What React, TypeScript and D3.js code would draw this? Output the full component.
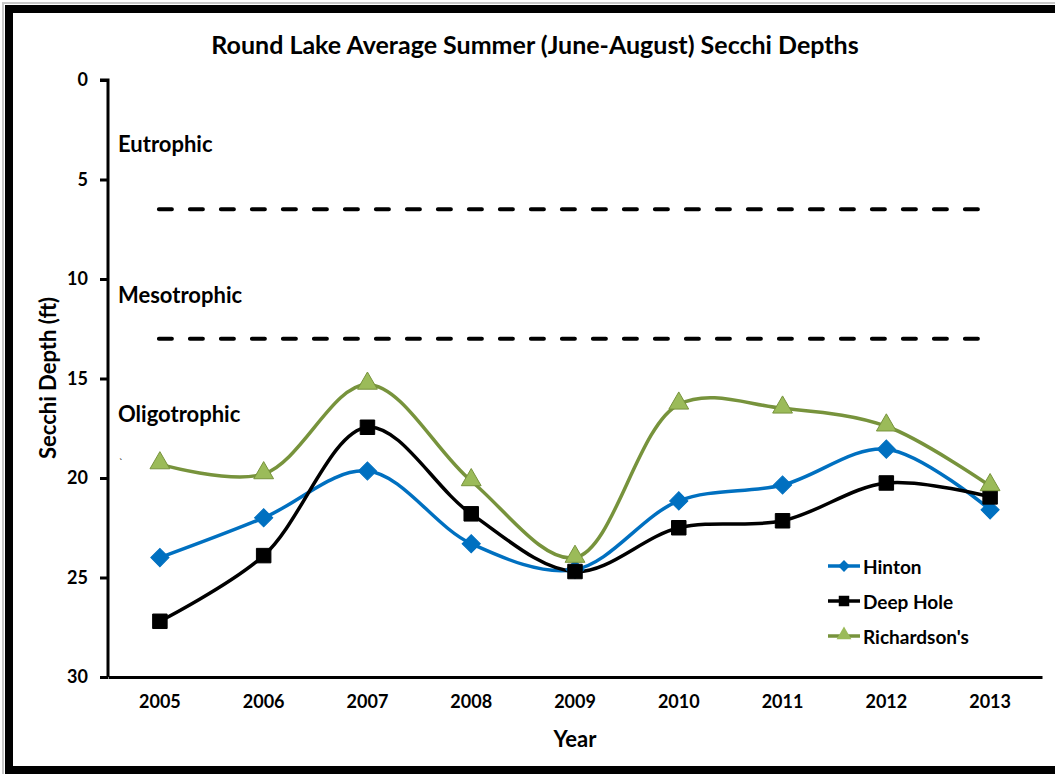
import React, { useEffect, useRef } from 'react';
import * as d3 from 'd3';

const years = ['2005', '2006', '2007', '2008', '2009', '2010', '2011', '2012', '2013'];
const hinton = [24.0, 22.0, 19.65, 23.3, 24.6, 21.15, 20.35, 18.55, 21.6];
const deepHole = [27.2, 23.9, 17.45, 21.8, 24.7, 22.5, 22.15, 20.25, 20.95];
const richardsons = [19.3, 19.8, 15.3, 20.15, 24.0, 16.3, 16.5, 17.4, 20.4];
const yTicks = [0, 5, 10, 15, 20, 25, 30];
const thresholds = [6.5, 13];
const zones = [
  { label: 'Eutrophic', depth: 3.2 },
  { label: 'Mesotrophic', depth: 10.8 },
  { label: 'Oligotrophic', depth: 16.75 },
];

const series = [
  { name: 'Hinton', values: hinton, color: '#0070C0', fill: '#0070C0', marker: 'diamond' },
  { name: 'Deep Hole', values: deepHole, color: '#000000', fill: '#000000', marker: 'square' },
  { name: "Richardson's", values: richardsons, color: '#77933C', fill: '#9BBB59', marker: 'triangle' },
];

const FONT = 'Lato, "Open Sans", sans-serif';

const App = () => {
  const ref = useRef<SVGSVGElement>(null);

  useEffect(() => {
    const svg = d3.select(ref.current);
    svg.selectAll('*').remove();

    const left = 108, right = 1042, top = 80, bottom = 677;

    // frame
    svg.append('rect')
      .attr('x', 3).attr('y', 3).attr('width', 1070).attr('height', 773)
      .attr('fill', 'none').attr('stroke', '#c8c8c8').attr('stroke-width', 2);
    svg.append('rect')
      .attr('x', 9).attr('y', 9).attr('width', 1060).attr('height', 761)
      .attr('fill', 'white').attr('stroke', '#000').attr('stroke-width', 8);

    const x = d3.scaleBand().domain(years).range([left, right]).padding(0);
    const y = d3.scaleLinear().domain([0, 30]).range([top, bottom]);

    // title
    svg.append('text')
      .attr('x', 535).attr('y', 44)
      .attr('text-anchor', 'middle').attr('dominant-baseline', 'central')
      .style('font', `bold 25px ${FONT}`)
      .text('Round Lake Average Summer (June-August) Secchi Depths');

    // y axis
    const yAxis = svg.append('g')
      .attr('transform', `translate(${left},0)`)
      .call(d3.axisLeft(y).tickValues(yTicks).tickSize(8).tickPadding(12).tickFormat(d3.format('d')));
    yAxis.select('.domain').attr('stroke-width', 3).attr('d', `M-8,${top}H0V${bottom}`);
    yAxis.selectAll('.tick line').attr('stroke-width', 3);
    yAxis.selectAll('.tick text').style('font', `bold 18px ${FONT}`).attr('fill', '#000');

    // x axis
    const xAxis = svg.append('g')
      .attr('transform', `translate(0,${bottom})`)
      .call(d3.axisBottom(x).tickSize(0).tickPadding(18));
    xAxis.select('.domain').attr('stroke-width', 3);
    xAxis.selectAll('.tick text').style('font', `bold 18px ${FONT}`).attr('fill', '#000');

    // axis titles
    svg.append('text')
      .attr('x', 575).attr('y', 738)
      .attr('text-anchor', 'middle').attr('dominant-baseline', 'central')
      .style('font', `bold 22px ${FONT}`)
      .text('Year');
    svg.append('text')
      .attr('transform', `translate(47,378) rotate(-90)`)
      .attr('text-anchor', 'middle').attr('dominant-baseline', 'central')
      .style('font', `bold 22px ${FONT}`)
      .text('Secchi Depth (ft)');

    // trophic thresholds
    svg.selectAll('.thresh')
      .data(thresholds)
      .enter().append('line')
      .attr('x1', x('2005')! + x.bandwidth() / 2 - 1)
      .attr('x2', x('2013')! + x.bandwidth() / 2 - 10)
      .attr('y1', d => y(d)).attr('y2', d => y(d))
      .attr('stroke', '#000').attr('stroke-width', 4)
      .attr('stroke-linecap', 'round')
      .attr('stroke-dasharray', '13 18');

    svg.selectAll('.zone')
      .data(zones)
      .enter().append('text')
      .attr('x', 118).attr('y', d => y(d.depth))
      .attr('dominant-baseline', 'central')
      .style('font', `bold 22px ${FONT}`)
      .text(d => d.label);

    svg.append('text').attr('x', 119).attr('y', 466).style('font', `10px ${FONT}`).text('`');

    const cx = (i: number) => x(years[i])! + x.bandwidth() / 2;
    const line = d3.line<number>()
      .x((_, i) => cx(i))
      .y(d => y(d))
      .curve(d3.curveCatmullRom.alpha(0.5));

    const symbolFor = (m: string, big: boolean) =>
      m === 'diamond' ? d3.symbol(d3.symbolSquare, big ? 165 : 70)
        : m === 'square' ? d3.symbol(d3.symbolSquare, big ? 210 : 110)
          : d3.symbol(d3.symbolTriangle, big ? 170 : 95);
    const rot = (m: string) => (m === 'diamond' ? ' rotate(45)' : '');

    series.forEach(s => {
      svg.append('path')
        .attr('d', line(s.values))
        .attr('fill', 'none').attr('stroke', s.color).attr('stroke-width', 3.5);
    });
    series.forEach(s => {
      svg.selectAll(null)
        .data(s.values)
        .enter().append('path')
        .attr('d', symbolFor(s.marker, true)()!)
        .attr('transform', (d, i) => `translate(${cx(i)},${y(d) + (s.marker === 'triangle' ? -1 : 0)})${rot(s.marker)}`)
        .attr('fill', s.fill)
        .attr('stroke', s.marker === 'triangle' ? '#77933C' : s.fill)
        .attr('stroke-width', 1);
    });

    // legend
    const legend = svg.append('g').attr('transform', 'translate(828,566)');
    series.forEach((s, i) => {
      const g = legend.append('g').attr('transform', `translate(0,${i * 35})`);
      g.append('line').attr('x1', 0).attr('x2', 32).attr('y1', 0).attr('y2', 0)
        .attr('stroke', s.color).attr('stroke-width', 3.5);
      g.append('path')
        .attr('d', symbolFor(s.marker, false)()!)
        .attr('transform', `translate(16,${s.marker === 'triangle' ? -1 : 0})${rot(s.marker)}`)
        .attr('fill', s.fill);
      g.append('text').attr('x', 35).attr('y', 0)
        .attr('dominant-baseline', 'central')
        .style('font', `bold 19px ${FONT}`)
        .text(s.name);
    });
  }, []);

  return (
    <svg ref={ref} width={1055} height={774}
      style={{ position: 'absolute', left: 0, top: 0, background: 'white' }} />
  );
};

export default App;
